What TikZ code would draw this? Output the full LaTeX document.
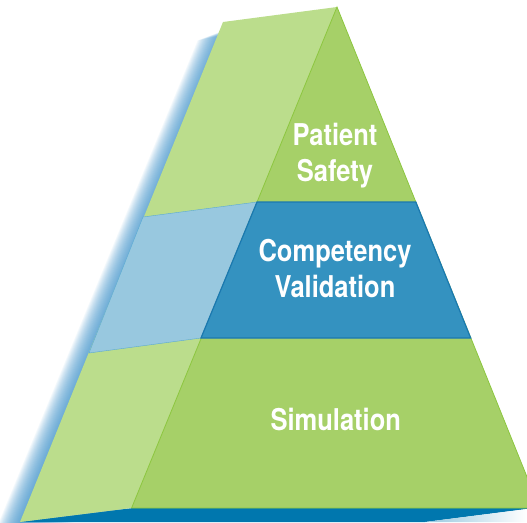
\documentclass[tikz,border=0pt]{standalone}
\usepackage{fontspec}
\newfontfamily\pyrfont[FakeStretch=0.85]{TeX Gyre Heros}
\usetikzlibrary{positioning}

\definecolor{backgreen}{HTML}{BBDD8C}
\definecolor{frontgreen}{HTML}{A6D068}
\definecolor{greenline}{HTML}{8CC63F}
\definecolor{backblue}{HTML}{98C8DF}
\definecolor{backline}{HTML}{5AAAD4}
\definecolor{frontblue}{HTML}{3492C0}
\definecolor{blueline}{HTML}{1A78B0}
\definecolor{basedark}{HTML}{0077AE}
\definecolor{shadowblue}{HTML}{3A8FC8}

\tikzset{
  layerlabel/.style={font=\pyrfont\bfseries\fontsize{30}{36}\selectfont,text=white,align=center,inner sep=0pt},
}

\begin{document}
\begin{tikzpicture}[x=1pt,y=-1pt]
\useasboundingbox (0,0) rectangle (527,522);
\clip (0,0) rectangle (527,522);

% blurred shadow behind the back face
\foreach \d in {1,...,26}
  \fill[shadowblue,opacity=0.055] ([shift={(-1.05*\d,0.4*\d)}]225,30) -- ([shift={(-1.05*\d,0.4*\d)}]337,7) -- ([shift={(-1.05*\d,0.4*\d)}]131.6,508) -- ([shift={(-1.05*\d,0.4*\d)}]22,522) -- cycle;

% base
\fill[basedark] (20,522) -- (133,508) -- (527,508) -- (527,509) -- (425,522) -- cycle;
\shade[left color=backblue,right color=white] (425,522) -- (527,509) -- (527,522) -- cycle;

% back face
\fill[backgreen] (223,22) -- (337,7) -- (131.6,508) -- (20,522) -- cycle;
\draw[fill=backblue,draw=backline,thin] (143,217) -- (257,202) -- (201,338) -- (89,353) -- cycle;

% front face
\draw[fill=frontgreen,draw=greenline,thick] (337,7) -- (539.6,508) -- (131.6,508) -- cycle;
\draw[fill=frontblue,draw=blueline,line width=1.2pt] (257,202) -- (415.8,202) -- (470.7,338) -- (201,338) -- cycle;

\node[layerlabel] (patient) at (335,155.5) {Patient\\Safety};
\node[layerlabel] (competency) at (335,269) {Competency\\Validation};
\node[layerlabel,anchor=base] (simulation) at (335.8,430) {Simulation};

\end{tikzpicture}
\end{document}
